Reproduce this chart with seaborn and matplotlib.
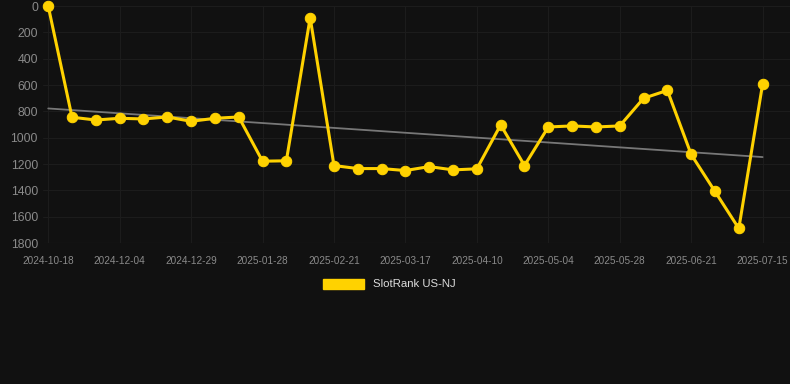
import numpy as np
import pandas as pd
import matplotlib
matplotlib.use("Agg")
import matplotlib.pyplot as plt
import seaborn as sns
from matplotlib.patches import Patch

# rank values (lower is better, axis inverted)
rank = [0, 844, 865, 852, 857, 842, 875, 852, 842, 1178, 1175, 88,
        1211, 1234, 1234, 1249, 1219, 1244, 1236, 902, 1211, 918, 910,
        918, 910, 700, 640, 1127, 1408, 1689, 592]
tick_labels = ["2024-10-18", "2024-12-04", "2024-12-29", "2025-01-28",
               "2025-02-21", "2025-03-17", "2025-04-10", "2025-05-04",
               "2025-05-28", "2025-06-21", "2025-07-15"]
y_ticks = [0, 200, 400, 600, 800, 1000, 1200, 1400, 1600, 1800]
series_name = "SlotRank US-NJ"

bg = "#111111"
gold = "#FFD200"

sns.set_style("dark")
plt.rcParams['font.family'] = ['Liberation Sans', 'DejaVu Sans']

df = pd.DataFrame({"step": np.arange(len(rank)), "rank": rank})
coef = np.polyfit(df["step"], df["rank"], 1)
df["trend"] = np.polyval(coef, df["step"])

fig = plt.figure(figsize=(7.9, 3.84), dpi=100, facecolor=bg)
ax = fig.add_axes([0.055, 0.367, 0.945, 0.617])
ax.set_facecolor(bg)

sns.lineplot(data=df, x="step", y="trend", ax=ax, color="#777777", linewidth=1.3)
sns.lineplot(data=df, x="step", y="rank", ax=ax, color=gold, linewidth=2.2,
             marker="o", markersize=7.5, markeredgecolor=gold, clip_on=False)

ax.set_ylim(1800, 0)
ax.set_xlim(-0.2, len(rank) - 1 + 1.15)
ax.set_yticks(y_ticks)
ax.set_yticklabels([str(v) for v in y_ticks])
ax.set_xticks(np.arange(0, len(rank), 3))
ax.set_xticklabels(tick_labels)
ax.tick_params(axis="y", colors="#8a8a8a", labelsize=8.8, length=0, pad=4)
ax.tick_params(axis="x", colors="#8a8a8a", labelsize=7.2, length=0, pad=9)
ax.grid(True, color="#1c1c1c", linewidth=0.8)
ax.set_xlabel("")
ax.set_ylabel("")
for s in ax.spines.values():
    s.set_visible(False)
ax.axhline(1800, color="#2a2a2a", linewidth=0.8)

fig.legend(handles=[Patch(facecolor=gold, edgecolor=gold, label=series_name)],
           loc="center", bbox_to_anchor=(0.493, 1 - 284 / 384), frameon=False,
           labelcolor="#dddddd", fontsize=8.2, handlelength=3.6, handleheight=1.0)

fig.savefig("out.png", dpi=100, facecolor=bg)
